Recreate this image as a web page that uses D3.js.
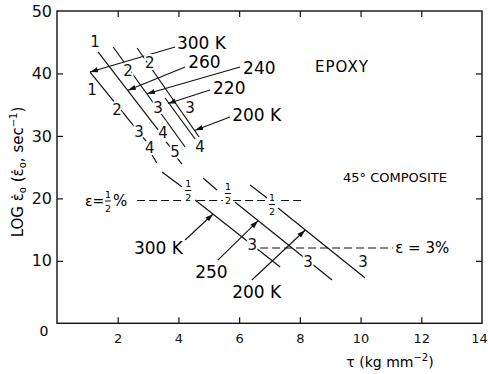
<!DOCTYPE html>
<html>
<head>
<meta charset="utf-8">
<script src="https://cdn.jsdelivr.net/npm/d3@7.9.0/dist/d3.min.js"></script>
<style>
  body { margin: 0; background: #fff; }
  svg { display: block; font-family: 'DejaVu Sans', sans-serif; }
  .ax line { stroke: #111; stroke-width: 1.2; }
  .ax text { fill: #111; font-family: 'DejaVu Sans', sans-serif; }
</style>
</head>
<body>
<div id="chart"></div>
<script>
// axis ticks
const xTicks = [0, 2, 4, 6, 8, 10, 12, 14];
const yTicks = [0, 10, 20, 30, 40, 50];

// epoxy isotherms [tau1, log1, tau2, log2]
const epoxyLines = [
  [1.09, 40.23, 2.93, 29.19],
  [1.35, 43.44, 3.33, 30.95],
  [3.59, 29.03, 3.76, 28.07],
  [1.85, 44.24, 4.22, 28.23],
  [2.64, 44.08, 4.68, 29.83],
  [3.56, 36.07, 4.55, 29.51],
];
// short dashes joining epoxy lines to composite lines
const joinDashes = [
  [3.13, 26.95, 3.29, 25.66],
  [3.46, 24.22, 4.12, 21.82],
  [3.95, 26.47, 4.12, 25.50],
  [4.81, 23.26, 5.27, 21.34],
  [6.36, 22.14, 6.92, 20.06],
];
// 45 deg composite isotherms
const compositeLines = [
  [4.55, 19.74, 7.35, 9.01],
  [5.86, 19.42, 9.06, 6.93],
  [7.28, 18.46, 10.15, 7.25],
];
// strain marks (%) along the lines: text, tau, log
const strainMarks = [
  ['1', 1.25, 45.04], ['1', 1.15, 37.35], ['2', 1.98, 34.15], ['3', 2.70, 30.63], ['4', 3.06, 28.07],
  ['2', 2.34, 40.39], ['2', 3.06, 41.68], ['3', 3.33, 34.47], ['3', 4.38, 34.47],
  ['4', 3.49, 30.47], ['5', 3.89, 27.43], ['4', 4.71, 28.23],
  ['3', 6.43, 12.54], ['3', 8.27, 9.81], ['3', 10.08, 9.81],
];
// 1/2 % marks: tau, log
const halfMarks = [[4.32, 21.34], [5.63, 20.86], [7.08, 19.10]];

// temperature labels: text, tau, log, anchor
const tempLabels = [
  ['300 K', 3.95, 44.88, 'start'],
  ['260', 4.32, 41.83, 'start'],
  ['240', 6.13, 40.87, 'start'],
  ['220', 5.14, 37.67, 'start'],
  ['200 K', 5.77, 33.35, 'start'],
  ['300 K', 4.15, 12.06, 'end'],
  ['250', 4.55, 8.21, 'start'],
  ['200 K', 5.77, 5.01, 'start'],
];
// arrows from label to line: tau1, log1, tau2, log2
const tempArrows = [
  [3.89, 44.24, 1.09, 40.23],
  [4.22, 41.03, 2.34, 37.3],
  [6.03, 41.03, 2.97, 36.75],
  [5.04, 37.35, 3.66, 35.2],
  [5.70, 33.03, 4.55, 30.9],
  [4.22, 13.34, 5.14, 17.5],
  [5.30, 10.13, 6.62, 16.4],
  [6.42, 6.93, 8.17, 14.9],
];
// constant strain lines
const strainLevels = [
  { text: '½', log: 19.66, from: 2.64, to: 8.17, labelAt: 0.92 },
  { text: '3', log: 12.06, from: 6.69, to: 11.07, labelAt: 11.14 },
];

const W = 488, H = 374;
const margin = { top: 11, right: 6, bottom: 50.7, left: 57 };

const svg = d3.select('#chart').append('svg')
  .attr('width', W).attr('height', H);

const x = d3.scaleLinear().domain([0, 14]).range([margin.left, W - margin.right]);
const y = d3.scaleLinear().domain([0, 50]).range([H - margin.bottom, margin.top]);

svg.append('defs').append('marker')
  .attr('id', 'head')
  .attr('viewBox', '0 -4 9 8')
  .attr('refX', 9).attr('refY', 0)
  .attr('markerUnits', 'userSpaceOnUse')
  .attr('markerWidth', 8).attr('markerHeight', 7)
  .attr('orient', 'auto')
  .append('path').attr('d', 'M0,-3L9,0L0,3Z').attr('fill', '#111');

// frame
svg.append('rect')
  .attr('x', x(0)).attr('y', y(50))
  .attr('width', x(14) - x(0)).attr('height', y(0) - y(50))
  .attr('fill', 'none').attr('stroke', '#111').attr('stroke-width', 1.4);

// bottom axis
const gx = svg.append('g').attr('class', 'ax')
  .attr('transform', `translate(0,${y(0)})`)
  .call(d3.axisBottom(x).tickValues(xTicks).tickSizeInner(-6).tickSizeOuter(0)
    .tickPadding(10).tickFormat(d => d === 0 ? '' : d));
gx.select('.domain').remove();
gx.selectAll('.tick').filter(d => d === 0 || d === 14).select('line').remove();
gx.selectAll('text').style('font-size', '13px');
// last label sits right at the page edge
gx.selectAll('.tick').filter(d => d === 14).select('text').attr('x', -3);

// left axis
const gy = svg.append('g').attr('class', 'ax')
  .attr('transform', `translate(${x(0)},0)`)
  .call(d3.axisLeft(y).tickValues(yTicks).tickSizeInner(-6).tickSizeOuter(0)
    .tickPadding(5).tickFormat(d => d === 0 ? '' : d));
gy.select('.domain').remove();
gy.selectAll('.tick').filter(d => d === 0 || d === 50).select('line').remove();
gy.selectAll('text').style('font-size', '16px');

// top and right ticks, no labels
const gt = svg.append('g').attr('class', 'ax')
  .attr('transform', `translate(0,${y(50)})`)
  .call(d3.axisTop(x).tickValues(xTicks.slice(1, -1)).tickSizeInner(-6).tickSizeOuter(0).tickFormat(''));
gt.select('.domain').remove();
const gr = svg.append('g').attr('class', 'ax')
  .attr('transform', `translate(${x(14)},0)`)
  .call(d3.axisRight(y).tickValues(yTicks.slice(1, -1)).tickSizeInner(-6).tickSizeOuter(0).tickFormat(''));
gr.select('.domain').remove();

// shared origin label
svg.append('text')
  .attr('x', x(0) - 13).attr('y', y(0) + 8).attr('dy', '0.35em')
  .attr('text-anchor', 'middle').style('font-size', '14px').text('0');

// axis titles
const yt = svg.append('text')
  .attr('transform', `translate(23,172) rotate(-90)`)
  .attr('text-anchor', 'middle').style('font-size', '15px');
yt.append('tspan').text('LOG ε\u0307');
yt.append('tspan').attr('dy', 3).style('font-size', '10px').text('o');
yt.append('tspan').attr('dy', -3).text(' (ε\u0307');
yt.append('tspan').attr('dy', 3).style('font-size', '10px').text('o');
yt.append('tspan').attr('dy', -3).text(', sec');
yt.append('tspan').attr('dy', -6).style('font-size', '10px').text('−1');
yt.append('tspan').attr('dy', 6).text(')');

const xt = svg.append('text')
  .attr('x', 390).attr('y', 367)
  .attr('text-anchor', 'middle').style('font-size', '14px');
xt.append('tspan').text('τ (kg mm');
xt.append('tspan').attr('dy', -6).style('font-size', '10px').text('−2');
xt.append('tspan').attr('dy', 6).text(')');

const seg = (g, data, cls) => g.selectAll('line.' + cls).data(data).join('line')
  .attr('class', cls)
  .attr('x1', d => x(d[0])).attr('y1', d => y(d[1]))
  .attr('x2', d => x(d[2])).attr('y2', d => y(d[3]))
  .attr('stroke', '#111').attr('stroke-width', 1.2);

const plot = svg.append('g');
seg(plot, epoxyLines, 'epoxy');
seg(plot, joinDashes, 'join');
seg(plot, compositeLines, 'comp');

// constant strain dashed lines
plot.selectAll('line.strain').data(strainLevels).join('line')
  .attr('class', 'strain')
  .attr('x1', d => x(d.from)).attr('x2', d => x(d.to))
  .attr('y1', d => y(d.log)).attr('y2', d => y(d.log))
  .attr('stroke', '#111').attr('stroke-width', 1.1)
  .attr('stroke-dasharray', '8,4');

// arrows
seg(plot, tempArrows, 'arrow').attr('stroke-width', 1.1).attr('marker-end', 'url(#head)');

// strain marks with white halo to break the lines
plot.selectAll('text.mark').data(strainMarks).join('text')
  .attr('class', 'mark')
  .attr('x', d => x(d[1])).attr('y', d => y(d[2])).attr('dy', '0.36em')
  .attr('text-anchor', 'middle')
  .style('font-size', '15px')
  .attr('fill', '#111')
  .attr('stroke', '#fff').attr('stroke-width', 4).attr('paint-order', 'stroke')
  .text(d => d[0]);

// stacked 1/2 drawn as small numerator, bar, denominator
function fraction(g, cx) {
  g.append('text').attr('x', cx).attr('y', -3).attr('text-anchor', 'middle').style('font-size', '9.5px').text('1');
  g.append('line').attr('x1', cx - 3).attr('x2', cx + 3).attr('y1', 0.5).attr('y2', 0.5).attr('stroke', '#111');
  g.append('text').attr('x', cx).attr('y', 11).attr('text-anchor', 'middle').style('font-size', '9.5px').text('2');
}

const half = plot.selectAll('g.half').data(halfMarks).join('g')
  .attr('class', 'half')
  .attr('transform', d => `translate(${x(d[0])},${y(d[1])})`);
half.append('rect').attr('x', -5).attr('y', -11).attr('width', 10).attr('height', 22).attr('fill', '#fff');
half.each(function () { fraction(d3.select(this), 0); });

// strain level labels
const lHalf = plot.append('g').attr('transform', `translate(${x(strainLevels[0].labelAt)},${y(strainLevels[0].log)})`);
lHalf.append('text').attr('dy', '0.36em').style('font-size', '14px').text('ε=');
fraction(lHalf, 23);
lHalf.append('text').attr('x', 28).attr('dy', '0.36em').style('font-size', '15px').text('%');

plot.append('text')
  .attr('x', x(strainLevels[1].labelAt)).attr('y', y(strainLevels[1].log)).attr('dy', '0.36em')
  .style('font-size', '15px').text(`ε = ${strainLevels[1].text}%`);

// temperature labels
plot.selectAll('text.temp').data(tempLabels).join('text')
  .attr('class', 'temp')
  .attr('x', d => x(d[1])).attr('y', d => y(d[2])).attr('dy', '0.36em')
  .attr('text-anchor', d => d[3])
  .style('font-size', '17px')
  .text(d => d[0]);

// material labels
plot.append('text').attr('x', x(8.50)).attr('y', y(41.03)).attr('dy', '0.36em')
  .style('font-size', '15px').style('letter-spacing', '1px').text('EPOXY');
plot.append('text').attr('x', x(9.42)).attr('y', y(23.42)).attr('dy', '0.36em')
  .style('font-size', '13px').text('45° COMPOSITE');
</script>
</body>
</html>
